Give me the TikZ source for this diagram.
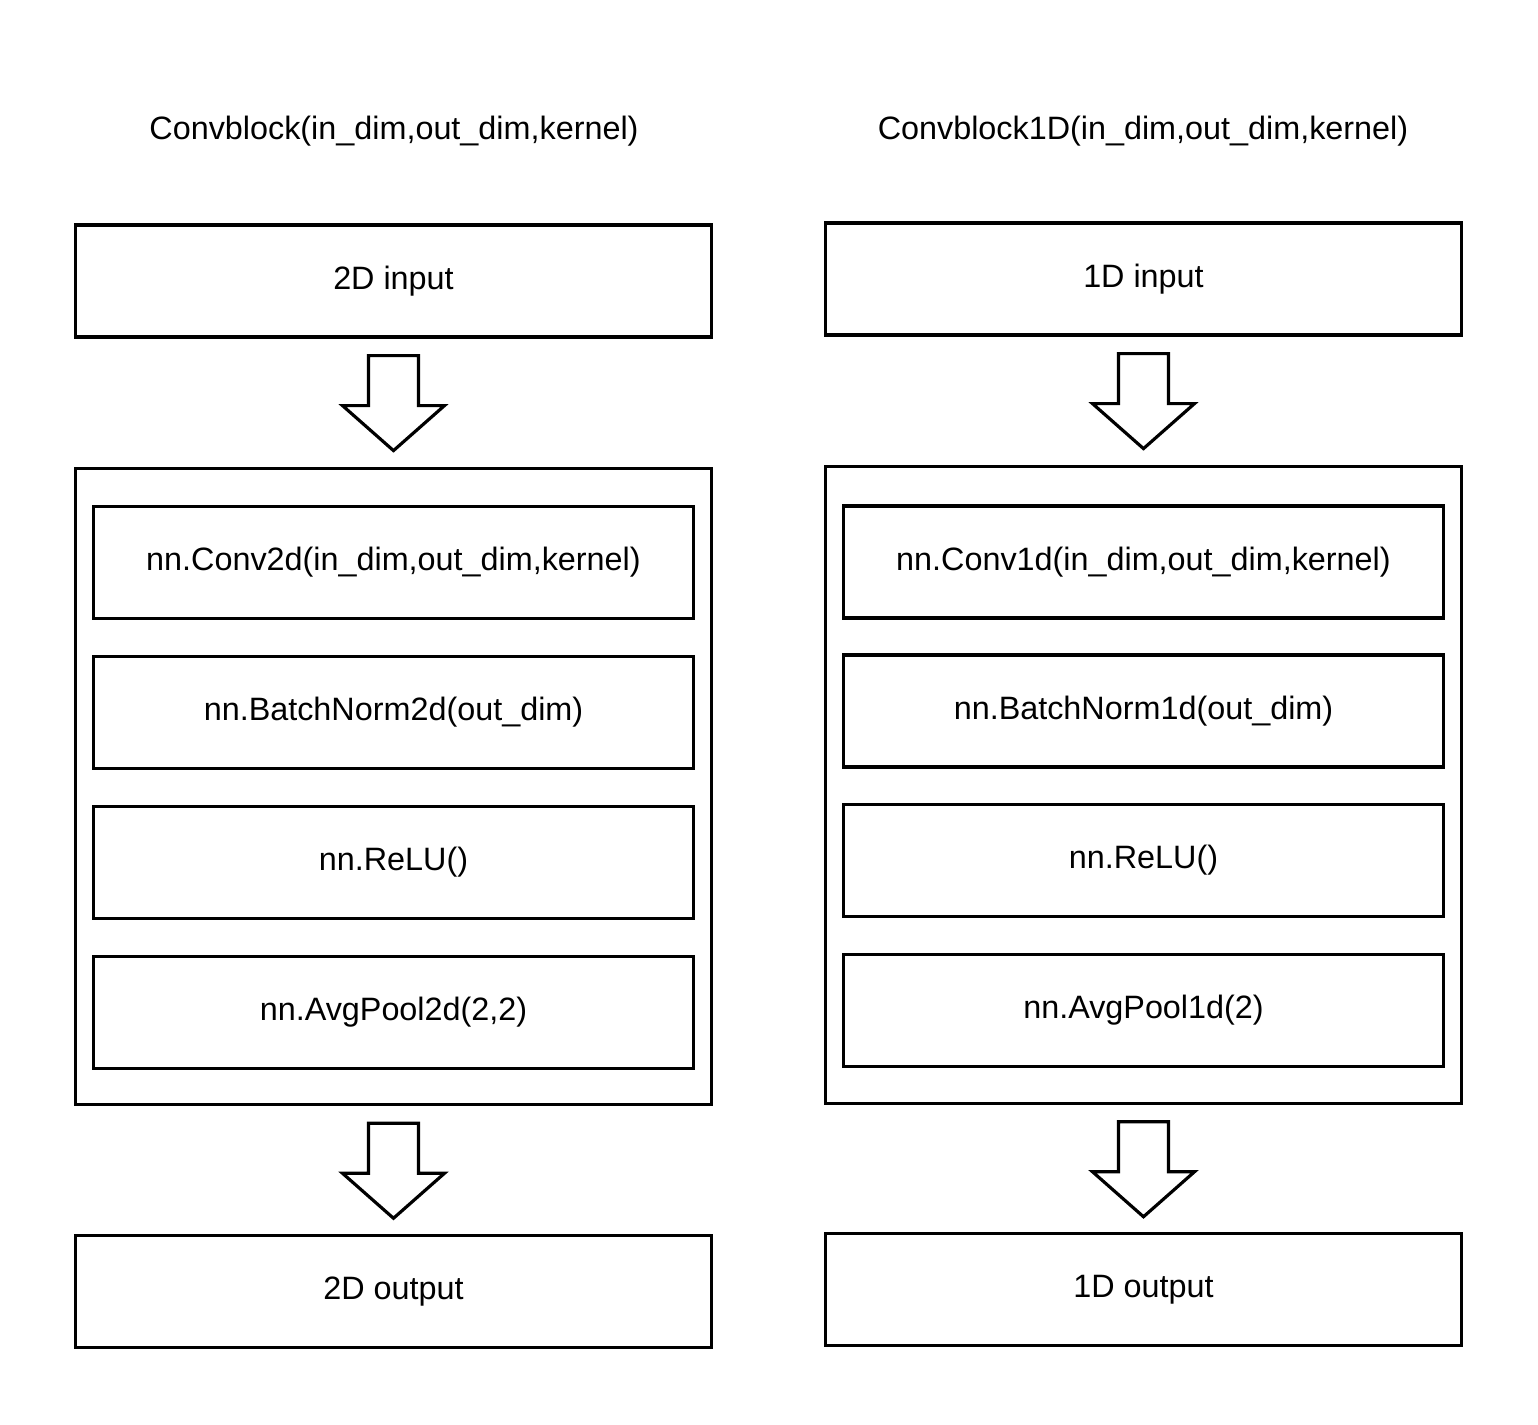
\documentclass[tikz,border=0pt]{standalone}
\usepackage{fontspec}
\setmainfont{Liberation Sans}
\usetikzlibrary{calc}

\tikzset{
  txt/.style={font=\fontsize{9.2}{11}\selectfont},
  block/.style={draw, line width=0.9pt, txt, minimum width=6.36cm, minimum height=1.12cm, inner sep=0pt},
  layer/.style={block, minimum width=6.0cm, minimum height=1.12cm},
  frame/.style={draw, line width=0.9pt, minimum width=6.36cm, minimum height=6.36cm, inner sep=0pt},
  hollow/.style={draw, line width=0.9pt, line join=miter}
}
% hollow block arrow hanging below a point
\newcommand{\blockarrow}[1]{%
  \draw[hollow] ($(#1)+(0,17)$) ++(-25,0) -- ++(0,50) -- ++(-26,0) -- ++(51,45) -- ++(51,-45) -- ++(-26,0) -- ++(0,-50) -- cycle;}

\begin{document}
\begin{tikzpicture}[x=0.01cm, y=-0.01cm]
\useasboundingbox (0,0) rectangle (1538,1425);
% 2D block
\node[txt] (title2) at (394,131) {Convblock(in\_dim,out\_dim,kernel)};
\node[block] (in2) at (393.5,281) {2D input};
\node[frame] (body2) at (393.5,786.5) {};
\node[layer] (conv2) at (393.5,562.5) {nn.Conv2d(in\_dim,out\_dim,kernel)};
\node[layer] (bn2) at (393.5,712.5) {nn.BatchNorm2d(out\_dim)};
\node[layer] (relu2) at (393.5,862.5) {nn.ReLU()};
\node[layer] (pool2) at (393.5,1012.5) {nn.AvgPool2d(2,2)};
\node[block] (out2) at (393.5,1291.5) {2D output};
\blockarrow{in2.south}
\blockarrow{body2.south}
% 1D block
\node[txt] (title1) at (1143,131) {Convblock1D(in\_dim,out\_dim,kernel)};
\node[block] (in1) at (1143.5,279) {1D input};
\node[frame] (body1) at (1143.5,785) {};
\node[layer] (conv1) at (1143.5,562) {nn.Conv1d(in\_dim,out\_dim,kernel)};
\node[layer] (bn1) at (1143.5,711) {nn.BatchNorm1d(out\_dim)};
\node[layer] (relu1) at (1143.5,860.5) {nn.ReLU()};
\node[layer] (pool1) at (1143.5,1010.5) {nn.AvgPool1d(2)};
\node[block] (out1) at (1143.5,1289.5) {1D output};
\blockarrow{in1.south}
\blockarrow{body1.south}
\end{tikzpicture}
\end{document}
